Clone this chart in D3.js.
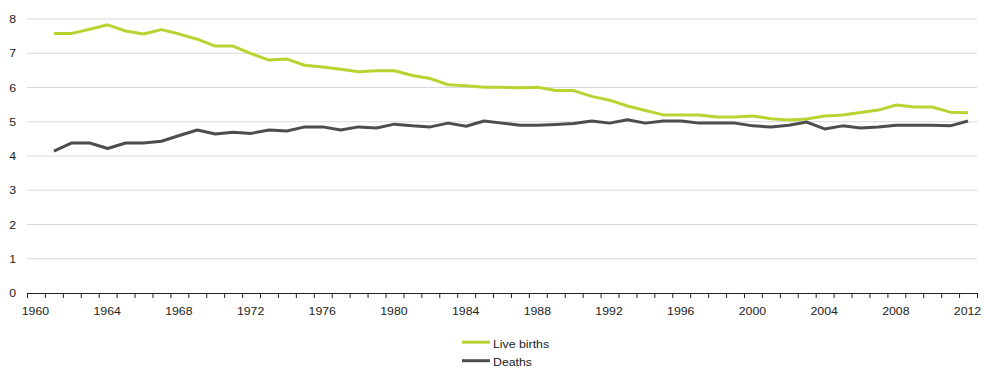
<!DOCTYPE html>
<html>
<head>
<meta charset="utf-8">
<script src="https://cdn.jsdelivr.net/npm/d3@7"></script>
<style>
  html, body { margin: 0; padding: 0; background: #fff; }
  svg { display: block; font-family: "Liberation Sans", Arial, sans-serif; }
</style>
</head>
<body>
<svg id="chart" width="984" height="368"></svg>
<script>
const years = d3.range(1961, 2013);
const liveBirths = [
  7.58, 7.58, 7.70, 7.83, 7.65, 7.56, 7.69, 7.56, 7.41, 7.21,
  7.21, 6.99, 6.80, 6.83, 6.65, 6.60, 6.53, 6.46, 6.49, 6.49,
  6.35, 6.26, 6.08, 6.05, 6.01, 6.01, 5.99, 6.01, 5.91, 5.91,
  5.74, 5.63, 5.46, 5.33, 5.20, 5.20, 5.20, 5.14, 5.14, 5.17,
  5.09, 5.05, 5.08, 5.17, 5.20, 5.27, 5.34, 5.49, 5.43, 5.43,
  5.28, 5.26
];
const deaths = [
  4.14, 4.38, 4.38, 4.22, 4.38, 4.38, 4.43, 4.60, 4.76, 4.64,
  4.69, 4.66, 4.76, 4.73, 4.85, 4.85, 4.76, 4.85, 4.82, 4.93,
  4.88, 4.85, 4.96, 4.87, 5.02, 4.96, 4.90, 4.90, 4.92, 4.95,
  5.02, 4.96, 5.06, 4.96, 5.02, 5.02, 4.96, 4.96, 4.96, 4.88,
  4.85, 4.90, 4.99, 4.79, 4.88, 4.82, 4.85, 4.90, 4.90, 4.90,
  4.88, 5.02
];
const yTicks = [0, 1, 2, 3, 4, 5, 6, 7, 8];
const xLabelYears = d3.range(1960, 2013, 4);
const seriesNames = ["Live births", "Deaths"];
const seriesColors = ["#b8d432", "#4d4d4d"];

const svg = d3.select("#chart");
const x = d3.scaleLinear().domain([1960, 2013]).range([27, 977]);
const y = d3.scaleLinear().domain([0, 8]).range([293, 19]);
const SX = 1.12; // horizontal stretch of text as in reference

// gridlines
svg.append("g").selectAll("line")
  .data(yTicks.filter(d => d > 0))
  .join("line")
  .attr("x1", 27).attr("x2", 977)
  .attr("y1", d => y(d)).attr("y2", d => y(d))
  .attr("stroke", "#d9d9d9").attr("stroke-width", 1);

// y labels
svg.append("g").selectAll("text")
  .data(yTicks)
  .join("text")
  .attr("transform", d => `translate(16,${y(d) + 4}) scale(${SX},1)`)
  .attr("text-anchor", "end")
  .attr("font-size", 11)
  .attr("fill", "#222")
  .text(d => d);

// x axis with ticks at year boundaries
const xAxis = d3.axisBottom(x)
  .tickValues(d3.range(1960, 2014))
  .tickSize(5)
  .tickFormat("");
const gx = svg.append("g").attr("transform", "translate(0,293)").call(xAxis);
gx.select(".domain").attr("stroke", "#222").attr("d", "M27,0.5H977");
gx.selectAll(".tick line").attr("stroke", "#222");

svg.append("g").selectAll("text")
  .data(xLabelYears)
  .join("text")
  .attr("transform", d => `translate(${x(d + 0.5) - 0.5},315) scale(${SX},1)`)
  .attr("text-anchor", "middle")
  .attr("font-size", 11)
  .attr("fill", "#222")
  .text(d => d);

// lines
const line = d3.line()
  .x((d, i) => x(years[i] + 0.5))
  .y(d => y(d));

[liveBirths, deaths].forEach((s, k) => {
  svg.append("path")
    .datum(s)
    .attr("d", line)
    .attr("fill", "none")
    .attr("stroke", seriesColors[k])
    .attr("stroke-width", 3)
    .attr("stroke-linejoin", "round");
});

// legend
const lg = svg.append("g");
seriesNames.forEach((n, k) => {
  const ly = 342.2 + k * 18.5;
  lg.append("line")
    .attr("x1", 462).attr("x2", 490)
    .attr("y1", ly).attr("y2", ly)
    .attr("stroke", seriesColors[k]).attr("stroke-width", 3);
  lg.append("text")
    .attr("transform", `translate(493,${ly + 5.5}) scale(${SX},1)`)
    .attr("font-size", 11)
    .attr("fill", "#222")
    .text(n);
});
</script>
</body>
</html>
